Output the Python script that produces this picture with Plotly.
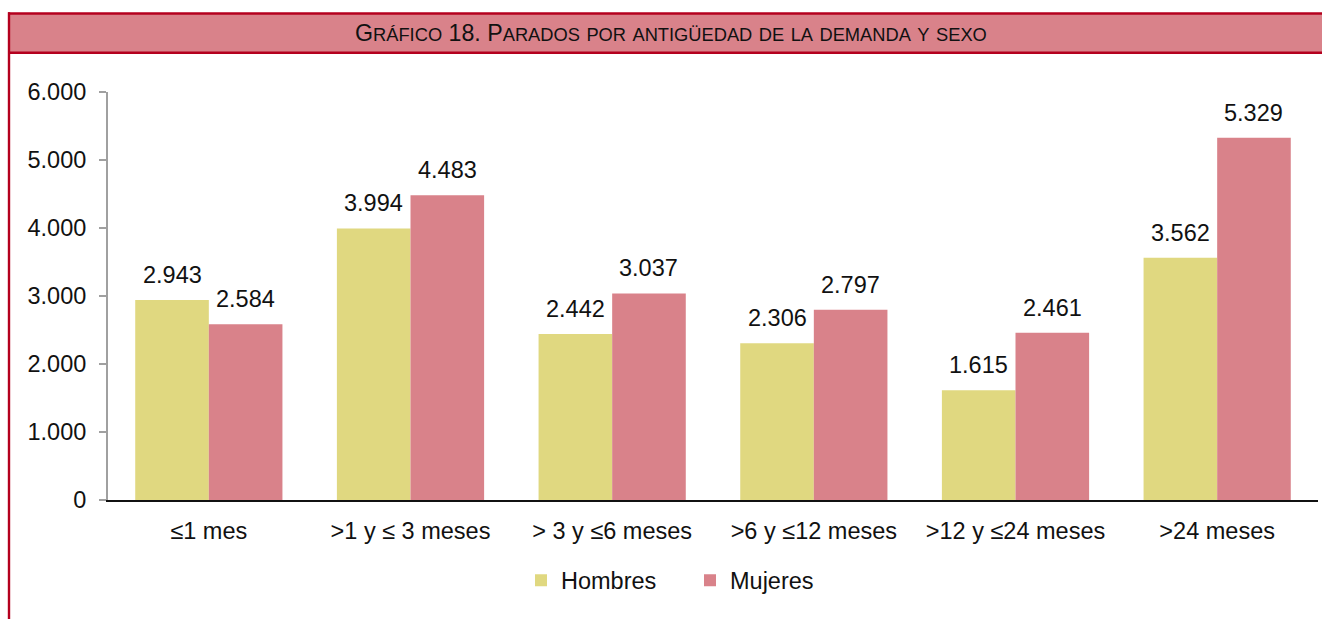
import plotly.graph_objects as go

categories = ["≤1 mes", ">1 y ≤ 3 meses", "> 3 y ≤6 meses", ">6 y ≤12 meses", ">12 y ≤24 meses", ">24 meses"]
hombres = [2943, 3994, 2442, 2306, 1615, 3562]
mujeres = [2584, 4483, 3037, 2797, 2461, 5329]
y_ticks = [0, 1000, 2000, 3000, 4000, 5000, 6000]
y_tick_labels = ["0", "1.000", "2.000", "3.000", "4.000", "5.000", "6.000"]

W, H = 1322, 619
L, R, T, B = 108, 1318, 92, 500


def px(x):
    return (x - L) / (R - L)


def py(y):
    return (B - y) / (B - T)


def fmt(v):
    return f"{v:,}".replace(",", ".")


FONT = "Liberation Sans, Arial, sans-serif"
FS = 23.5
C_H = "#E0D880"
C_M = "#D9828A"
C_BORDER = "#B4001E"
TXT = "#111111"

fig = go.Figure()
fig.add_bar(name="Hombres", x=categories, y=hombres, marker_color=C_H, marker_line_width=0)
fig.add_bar(name="Mujeres", x=categories, y=mujeres, marker_color=C_M, marker_line_width=0)

cat_px = (R - L) / len(categories)
bargap = 0.27
half = cat_px * (1 - bargap) / 4  # center offset of each bar within its group

annotations = []
for cat, vh, vm in zip(categories, hombres, mujeres):
    annotations.append(dict(x=cat, y=vh, xref="x", yref="y", text=fmt(vh), showarrow=False,
                            xshift=-half, yshift=10, yanchor="bottom", xanchor="center",
                            font=dict(family=FONT, size=FS, color=TXT)))
    annotations.append(dict(x=cat, y=vm, xref="x", yref="y", text=fmt(vm), showarrow=False,
                            xshift=half, yshift=10, yanchor="bottom", xanchor="center",
                            font=dict(family=FONT, size=FS, color=TXT)))

SMALL = 18.3


def sc(word):
    return word[0] + f'<span style="font-size:{SMALL}px">' + word[1:].upper() + '</span>'


title_words = ["Gráfico", "18.", "Parados", "por", "antigüedad", "de", "la", "demanda", "y", "sexo"]
parts = []
for w in title_words:
    if w[0].isdigit():
        parts.append(w)
    elif w[0].isupper():
        parts.append(sc(w))
    else:
        parts.append(f'<span style="font-size:{SMALL}px">' + w.upper() + '</span>')
title_text = " ".join(parts)

annotations.append(dict(xref="paper", yref="paper", x=px(671), y=py(33), text=title_text,
                        showarrow=False, xanchor="center", yanchor="middle",
                        font=dict(family=FONT, size=23.2, color=TXT)))

shapes = [
    dict(type="rect", xref="paper", yref="paper", x0=px(9), x1=px(1340), y0=py(52.7), y1=py(13.5),
         fillcolor=C_M, line=dict(width=0), layer="below"),
    dict(type="line", xref="paper", yref="paper", x0=px(8), x1=px(1340), y0=py(13.5), y1=py(13.5),
         line=dict(color=C_BORDER, width=2.4)),
    dict(type="line", xref="paper", yref="paper", x0=px(8), x1=px(1340), y0=py(52.7), y1=py(52.7),
         line=dict(color=C_BORDER, width=2.4)),
    dict(type="line", xref="paper", yref="paper", x0=px(9), x1=px(9), y0=py(12.3), y1=py(640),
         line=dict(color=C_BORDER, width=2.4)),
]

fig.update_layout(
    width=W, height=H,
    margin=dict(l=L, r=W - R, t=T, b=H - B, autoexpand=False),
    paper_bgcolor="white", plot_bgcolor="white",
    font=dict(family=FONT, size=FS, color=TXT),
    barmode="group", bargap=bargap, bargroupgap=0,
    shapes=shapes,
    annotations=annotations,
    legend=dict(orientation="h", x=px(521), xanchor="left", y=py(580.5), yanchor="middle",
                font=dict(size=FS), itemwidth=30, traceorder="normal",
                entrywidth=124, entrywidthmode="pixels"),
    showlegend=True,
)
fig.update_xaxes(showline=True, linecolor=TXT, linewidth=1.5, ticks="", showgrid=False,
                 tickfont=dict(size=FS), ticklabelstandoff=9, fixedrange=True)
fig.update_yaxes(range=[0, 6000], tickvals=y_ticks, ticktext=y_tick_labels, showline=True,
                 linecolor="#A0A0A0", linewidth=2, ticks="outside", ticklen=7, tickcolor="#A0A0A0",
                 tickwidth=2, showgrid=False, zeroline=False, tickfont=dict(size=FS),
                 ticklabelstandoff=8)

fig.write_html("out.html", config={"displayModeBar": False},
               post_script="document.body.style.margin='0';document.body.style.overflow='hidden';")
